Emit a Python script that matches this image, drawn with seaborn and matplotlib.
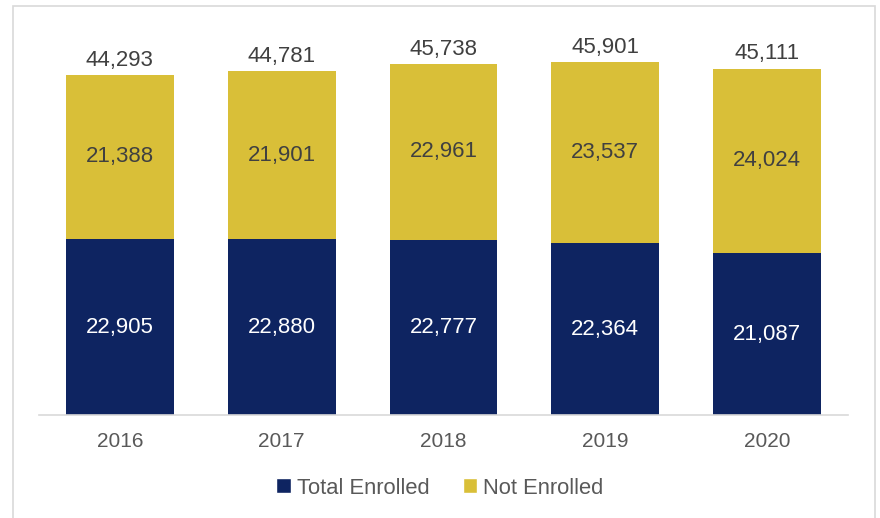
import matplotlib
matplotlib.use("Agg")
import matplotlib.pyplot as plt
import seaborn as sns
import pandas as pd
from matplotlib.patches import Patch, Rectangle

years = ["2016", "2017", "2018", "2019", "2020"]
enrolled = [22905, 22880, 22777, 22364, 21087]
not_enrolled = [21388, 21901, 22961, 23537, 24024]
totals = [e + n for e, n in zip(enrolled, not_enrolled)]

NAVY = "#0E2461"
GOLD = "#D9BF38"

sns.set_theme(style="white")
plt.rcParams["font.family"] = ["Liberation Sans", "DejaVu Sans"]

df = pd.DataFrame({"year": years, "enrolled": enrolled,
                   "not_enrolled": not_enrolled, "total": totals})

fig = plt.figure(figsize=(8.8, 5.18), dpi=100)
ax = fig.add_axes([39/880, 1-415/518, (848-39)/880, (415-31)/518])

sns.barplot(data=df, x="year", y="total", color=GOLD, width=0.667,
            saturation=1, ax=ax, linewidth=0)
sns.barplot(data=df, x="year", y="enrolled", color=NAVY, width=0.667,
            saturation=1, ax=ax, linewidth=0)

LBL = 16
bars_total = ax.containers[0]
bars_enr = ax.containers[1]
ax.bar_label(bars_total, labels=[f"{v:,}" for v in totals], padding=3,
             fontsize=LBL, color="#404040")
ax.bar_label(bars_enr, labels=[f"{v:,}" for v in enrolled], label_type="center",
             fontsize=LBL, color="white")
for rect, ne, en in zip(bars_total, not_enrolled, enrolled):
    ax.text(rect.get_x() + rect.get_width()/2, en + ne/2, f"{ne:,}",
            ha="center", va="center", fontsize=LBL, color="#404040")

ax.set_ylim(0, 50000)
ax.set_xlim(-0.5, 4.5)
ax.set_xlabel("")
ax.set_ylabel("")
ax.set_yticks([])
for s in ["top", "right", "left"]:
    ax.spines[s].set_visible(False)
ax.spines["bottom"].set_color("#d9d9d9")
ax.spines["bottom"].set_linewidth(1.2)
ax.tick_params(axis="x", length=0, labelsize=15, colors="#595959", pad=12)

handles = [Patch(facecolor=NAVY, label="Total Enrolled"),
           Patch(facecolor=GOLD, label="Not Enrolled")]
leg = fig.legend(handles=handles, loc="center", bbox_to_anchor=(0.5, 1-488/518),
                 ncol=2, frameon=False, fontsize=15.8, handlelength=0.65,
                 handleheight=0.65, handletextpad=0.3, columnspacing=1.5)
for t in leg.get_texts():
    t.set_color("#595959")

fig.patches.append(Rectangle((12.5/880, -0.05), (875-12.5)/880, 1.05 - 5.5/518,
                             transform=fig.transFigure, fill=False,
                             edgecolor="#d9d9d9", linewidth=1.2))

fig.savefig("out.png", dpi=100)
